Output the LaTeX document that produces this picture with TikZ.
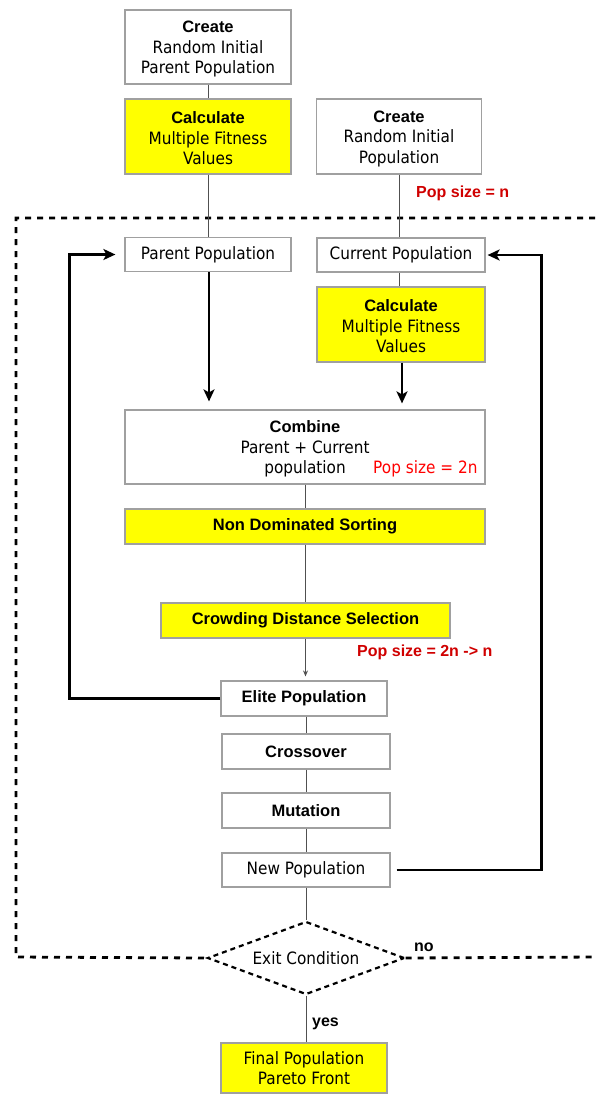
\documentclass[tikz,border=0pt]{standalone}
\usepackage{fontspec}
\usetikzlibrary{arrows.meta,shapes.geometric}
\newfontfamily\rfnt{DejaVu Sans}[FakeStretch=0.9]
\newfontfamily\bfnt{Liberation Sans}
\newcommand{\B}[1]{{\bfnt\bfseries\fontsize{16.5}{20.5}\selectfont #1}}
\newcommand{\strutup}{\rule{0pt}{16pt}}
\definecolor{bordergray}{HTML}{A0A0A0}
\definecolor{linegray}{HTML}{505050}
\definecolor{popred}{HTML}{D00000}
\definecolor{yel}{HTML}{FFFF00}
\begin{document}
\begin{tikzpicture}[x=1pt,y=-1pt,
  box/.style={draw=bordergray, line width=1.2pt, fill=white, inner sep=0pt, align=center,
    font=\rfnt\fontsize{17}{20.5}\selectfont},
  ybox/.style={box, fill=yel},
  thinline/.style={draw=linegray, line width=1pt},
  thickarrow/.style={draw=black, line width=2.8pt, -{Stealth[length=12pt,width=11pt,inset=3pt]}},
  loopdash/.style={draw=black, line width=2.8pt, dash pattern=on 6pt off 6pt},
  rtext/.style={font=\rfnt\fontsize{17}{20.5}\selectfont, inner sep=0pt},
  btext/.style={font=\bfnt\bfseries\fontsize{16}{20}\selectfont, inner sep=0pt},
]
\useasboundingbox[fill=white] (0,0) rectangle (595,1095);

% dashed loop corners
\coordinate (TR) at (595,218);
\coordinate (TL) at (16,218);
\coordinate (BL) at (16,957);
\coordinate (BR) at (595,957);

% nodes
\node[box, minimum width=166pt, minimum height=74pt] (c1) at (208,47) {\strutup\B{Create}\\Random Initial\\Parent Population};
\node[ybox, minimum width=166pt, minimum height=75pt] (calc1) at (208,136.5) {\strutup\B{Calculate}\\Multiple Fitness\\Values};
\node[box, minimum width=165pt, minimum height=75pt] (c2) at (399,136.5) {\strutup\B{Create}\\Random Initial\\Population};
\node[box, minimum width=166pt, minimum height=34pt] (ppop) at (208,254.5) {Parent Population};
\node[box, minimum width=168pt, minimum height=34pt] (cpop) at (401,255) {Current Population};
\node[ybox, minimum width=168pt, minimum height=75pt] (calc2) at (401,324.5) {\strutup\B{Calculate}\\Multiple Fitness\\Values};
\node[box, minimum width=360pt, minimum height=74pt] (comb) at (305,447) {\strutup\B{Combine}\\Parent + Current\\population};
\node[ybox, minimum width=360pt, minimum height=35pt] (nds) at (305,526.5) {\B{Non Dominated Sorting}};
\node[ybox, minimum width=289pt, minimum height=35pt] (crowd) at (305.5,620.5) {\B{Crowding Distance Selection}};
\node[box, minimum width=166pt, minimum height=35pt] (elite) at (304,698.5) {\B{Elite Population}};
\node[box, minimum width=168pt, minimum height=35pt] (cross) at (306,751.5) {\B{Crossover}};
\node[box, minimum width=168pt, minimum height=35pt] (mut) at (306,810.5) {\B{Mutation}};
\node[box, minimum width=168pt, minimum height=34pt] (newpop) at (306,870) {New Population};
\node[diamond, aspect=2.7, draw=black, line width=2.2pt, dash pattern=on 5pt off 4pt, inner sep=0pt,
  minimum width=197pt, minimum height=73pt, font=\rfnt\fontsize{17}{20.5}\selectfont] (diam) at (306,958) {Exit Condition};
\node[ybox, minimum width=166pt, minimum height=50pt] (final) at (304,1068) {Final Population\\Pareto Front};

% labels
\node[btext, text=popred, anchor=base west] (ps1) at (416,197) {Pop size = n};
\node[rtext, text=red, anchor=base west] (ps2) at (373,473) {Pop size = 2n};
\node[btext, text=popred, anchor=base west] (ps3) at (357,656.5) {Pop size = 2n -> n};
\node[btext, anchor=base west] (no) at (414,951.5) {no};
\node[btext, anchor=base west] (yes) at (312,1026.5) {yes};

% dashed loop lines
\draw[loopdash] (TR) -- (TL) -- (BL) -- (diam.west);
\draw[loopdash] (diam.east) -- (BR);

% thin connectors
\draw[thinline] (c1.south) -- (c1.south |- calc1.north);
\draw[thinline] (calc1.south) -- (calc1.south |- ppop.north);
\draw[thinline] (c2.south) -- (c2.south |- cpop.north);
\draw[thinline] ([xshift=-2pt]cpop.south) -- ([xshift=-2pt]cpop.south |- calc2.north);
\draw[thinline] (comb.south) -- (comb.south |- nds.north);
\draw[thinline] (nds.south) -- (nds.south |- crowd.north);
\draw[thinline, -{Stealth[length=6pt,width=5pt]}, shorten >=4pt] (crowd.south) -- (crowd.south |- elite.north);
\draw[thinline] ([xshift=2pt]elite.south) -- ([xshift=2pt]elite.south |- cross.north);
\draw[thinline] (cross.south) -- (cross.south |- mut.north);
\draw[thinline] (mut.south) -- (mut.south |- newpop.north);
\draw[thinline] (newpop.south) -- (diam.north);
\draw[thinline] (diam.south) -- (diam.south |- final.north);

% thick arrows
\draw[thickarrow, shorten >=8pt] ([xshift=1pt]ppop.south) -- ([xshift=1pt]ppop.south |- comb.north);
\draw[thickarrow, shorten >=6pt] ([xshift=1pt]calc2.south) -- ([xshift=1pt]calc2.south |- comb.north);

% loops
\coordinate (L) at (69.5,500);
\coordinate (R) at (541.5,500);
\draw[thickarrow, shorten >=9pt] (elite.west) -| (L) |- (ppop.west);
\draw[thickarrow, shorten <=6pt, shorten >=2pt] (newpop.east) -| (R) |- (cpop.east);
\end{tikzpicture}
\end{document}
